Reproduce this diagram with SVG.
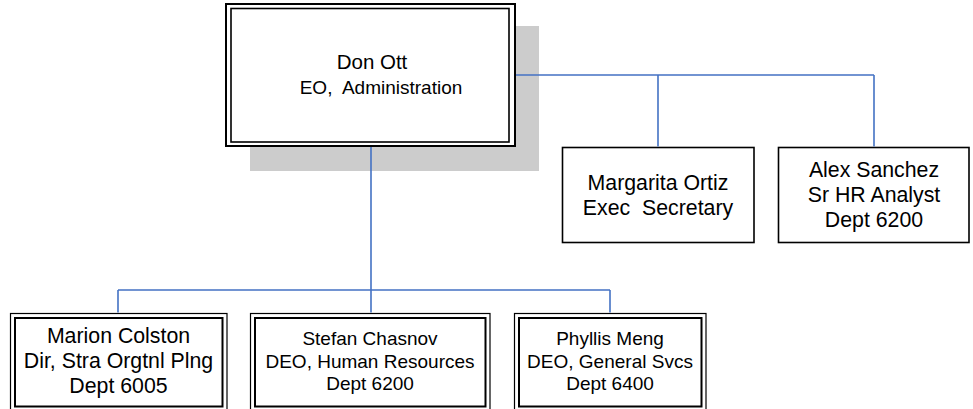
<svg xmlns="http://www.w3.org/2000/svg" width="973" height="409" viewBox="0 0 973 409">
<style>
text{font-family:"Liberation Sans",Arial,sans-serif;fill:#000;text-anchor:middle;white-space:pre}
.t19{font-size:19px}
.t20{font-size:20.5px}
.t21{font-size:21.3px}
.t18{font-size:19px}
.outer{fill:#fff;stroke:#000;stroke-width:2}
.inner{fill:none;stroke:#000;stroke-width:1.6}
.single{fill:#fff;stroke:#000;stroke-width:1.6}
.conn{fill:none;stroke:#4472C4;stroke-width:1.6}
</style>
<rect x="0" y="0" width="973" height="409" fill="#fff"/>
<g id="don-ott">
<rect x="250" y="26" width="289" height="145" fill="#cccccc"/>
<rect class="outer" x="226" y="4" width="289" height="142"/>
<rect class="inner" x="231" y="8.5" width="278" height="133.5"/>
<text class="t20" x="372" y="69">Don Ott</text>
<text class="t19" x="381" y="94" xml:space="preserve">EO,  Administration</text>
</g>
<g id="margarita-ortiz">
<rect class="single" x="562.5" y="147.5" width="191.5" height="95"/>
<text class="t21" x="658" y="190">Margarita Ortiz</text>
<text class="t21" x="658" y="215" xml:space="preserve">Exec  Secretary</text>
</g>
<g id="alex-sanchez">
<rect class="single" x="778.5" y="147.5" width="190.5" height="95"/>
<text class="t21" x="874" y="176.5">Alex Sanchez</text>
<text class="t21" x="874" y="201.5">Sr HR Analyst</text>
<text class="t21" x="874" y="226.5">Dept 6200</text>
</g>
<g id="marion-colston">
<rect class="outer" x="10.5" y="313.5" width="216.5" height="100" style="stroke-width:1.2"/>
<rect class="inner" x="15" y="318" width="207.5" height="88.5" style="stroke-width:2"/>
<text class="t21" x="118.5" y="343">Marion Colston</text>
<text class="t21" x="118.5" y="368">Dir, Stra Orgtnl Plng</text>
<text class="t21" x="118.5" y="393">Dept 6005</text>
</g>
<g id="stefan-chasnov">
<rect class="outer" x="250.5" y="313.5" width="239.5" height="100" style="stroke-width:1.2"/>
<rect class="inner" x="255" y="318" width="230.5" height="88.5" style="stroke-width:2"/>
<text class="t18" x="370" y="345">Stefan Chasnov</text>
<text class="t18" x="370" y="367.5">DEO, Human Resources</text>
<text class="t18" x="370" y="390">Dept 6200</text>
</g>
<g id="phyllis-meng">
<rect class="outer" x="514.5" y="313.5" width="191.5" height="100" style="stroke-width:1.2"/>
<rect class="inner" x="519" y="318" width="182.5" height="88.5" style="stroke-width:2"/>
<text class="t18" x="610" y="345">Phyllis Meng</text>
<text class="t18" x="610" y="367.5">DEO, General Svcs</text>
<text class="t18" x="610" y="390">Dept 6400</text>
</g>
<g id="connectors">
<path class="conn" d="M516,75 H874 M658,75 V146.5 M874,75 V146.5"/>
<path class="conn" d="M371,147 V312.5 M118,290 H610 M118,290 V312.5 M610,290 V312.5"/>
</g>
</svg>
